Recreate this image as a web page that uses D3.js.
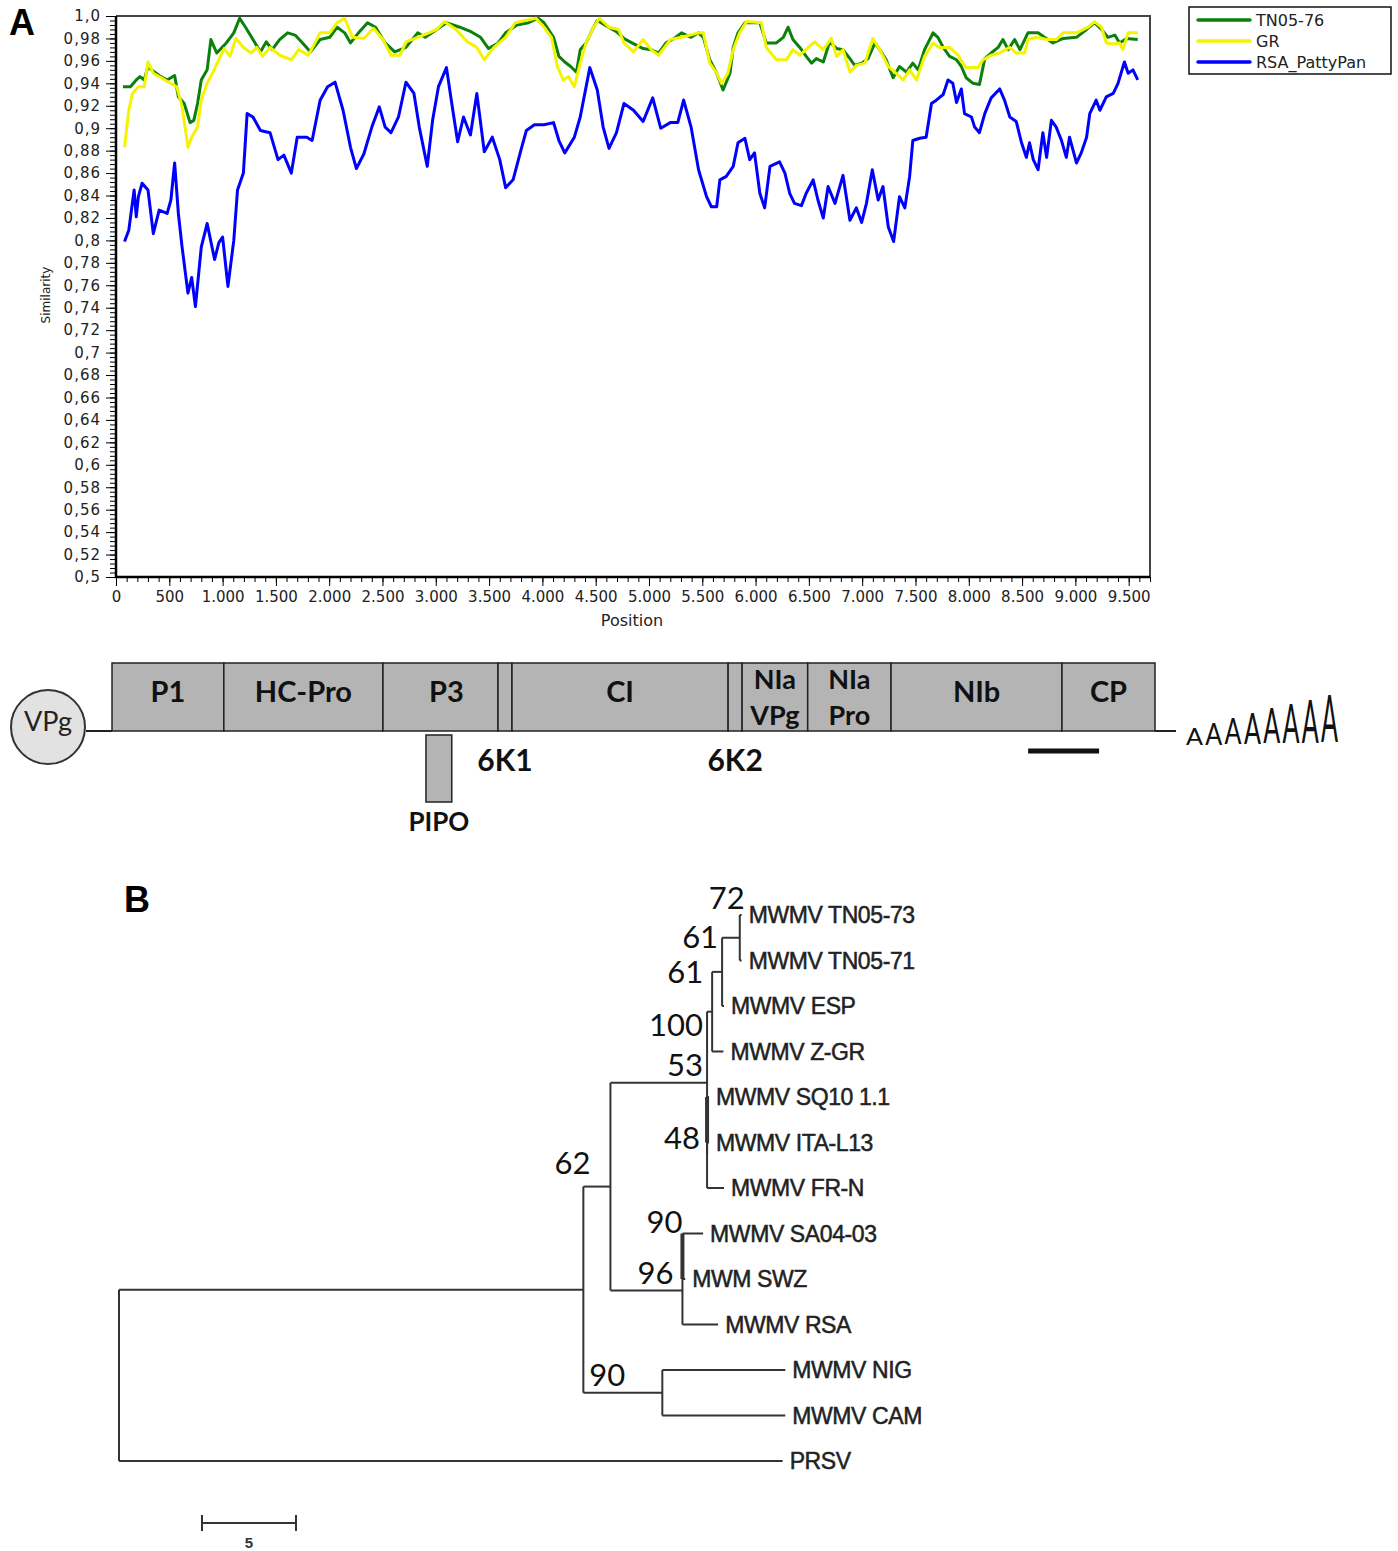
<!DOCTYPE html>
<html>
<head>
<meta charset="utf-8">
<script src="https://cdn.jsdelivr.net/npm/d3@7"></script>
<style>
  body { margin: 0; background: #fff; }
</style>
</head>
<body>
<div id="chart"></div>
<script>
/* ---------- DATA ---------- */
// panel A: similarity plot, [position, similarity]
const seriesNames = ['TN05-76', 'GR', 'RSA_PattyPan'];

const tn0576 = [[65,0.937],[135,0.937],[190,0.943],[225,0.946],[265,0.943],[300,0.955],[335,0.952],[405,0.947],[480,0.943],[550,0.947],[585,0.928],[640,0.922],[695,0.905],[730,0.907],[765,0.922],[800,0.943],[855,0.952],[890,0.979],[945,0.967],[1035,0.976],[1105,0.985],[1160,0.998],[1215,0.990],[1285,0.979],[1355,0.968],[1410,0.977],[1465,0.970],[1535,0.979],[1610,0.985],[1680,0.983],[1750,0.976],[1825,0.968],[1915,0.979],[2005,0.981],[2075,0.990],[2145,0.985],[2200,0.976],[2275,0.985],[2360,0.994],[2435,0.990],[2525,0.976],[2615,0.968],[2720,0.972],[2830,0.985],[2900,0.981],[3010,0.988],[3100,0.994],[3225,0.990],[3330,0.986],[3420,0.981],[3495,0.971],[3585,0.976],[3655,0.985],[3760,0.992],[3870,0.994],[3960,0.998],[4015,0.994],[4105,0.981],[4155,0.964],[4210,0.959],[4265,0.955],[4320,0.950],[4355,0.970],[4410,0.976],[4480,0.990],[4515,0.996],[4585,0.992],[4695,0.986],[4765,0.980],[4840,0.976],[4945,0.971],[5020,0.970],[5090,0.967],[5160,0.976],[5235,0.980],[5305,0.985],[5395,0.981],[5465,0.985],[5510,0.981],[5570,0.961],[5635,0.949],[5695,0.934],[5760,0.949],[5790,0.972],[5835,0.985],[5900,0.994],[6040,0.994],[6100,0.976],[6195,0.976],[6260,0.981],[6305,0.990],[6350,0.979],[6415,0.972],[6475,0.964],[6525,0.958],[6570,0.962],[6635,0.959],[6695,0.977],[6760,0.971],[6820,0.970],[6885,0.962],[6930,0.956],[6995,0.958],[7055,0.962],[7120,0.976],[7165,0.970],[7225,0.961],[7290,0.945],[7350,0.955],[7415,0.950],[7475,0.958],[7525,0.952],[7585,0.970],[7665,0.985],[7710,0.981],[7760,0.972],[7820,0.964],[7885,0.961],[7930,0.955],[7975,0.945],[8040,0.940],[8100,0.939],[8150,0.962],[8210,0.967],[8275,0.972],[8320,0.979],[8370,0.970],[8430,0.979],[8480,0.970],[8555,0.985],[8650,0.985],[8710,0.981],[8790,0.976],[8885,0.980],[9010,0.981],[9105,0.988],[9180,0.994],[9245,0.988],[9305,0.981],[9370,0.983],[9415,0.976],[9480,0.980],[9585,0.979]];

const gr = [[80,0.883],[120,0.916],[155,0.931],[210,0.937],[265,0.937],[300,0.959],[350,0.949],[425,0.945],[495,0.941],[570,0.937],[620,0.919],[675,0.883],[710,0.892],[765,0.901],[800,0.925],[855,0.940],[910,0.950],[965,0.961],[1015,0.971],[1070,0.964],[1125,0.980],[1195,0.972],[1270,0.967],[1320,0.972],[1375,0.964],[1445,0.972],[1535,0.965],[1645,0.961],[1715,0.970],[1805,0.965],[1915,0.985],[2005,0.985],[2075,0.994],[2145,0.998],[2220,0.981],[2325,0.980],[2415,0.989],[2505,0.979],[2580,0.965],[2665,0.965],[2720,0.977],[2830,0.981],[2935,0.985],[3010,0.988],[3080,0.995],[3190,0.988],[3295,0.977],[3385,0.972],[3455,0.961],[3545,0.972],[3655,0.981],[3745,0.994],[3835,0.996],[3940,0.998],[4015,0.990],[4085,0.981],[4140,0.955],[4195,0.943],[4245,0.946],[4300,0.937],[4355,0.958],[4410,0.976],[4480,0.990],[4535,0.998],[4625,0.990],[4715,0.988],[4765,0.976],[4855,0.968],[4945,0.979],[5020,0.970],[5090,0.965],[5200,0.979],[5305,0.981],[5465,0.985],[5510,0.985],[5570,0.958],[5635,0.949],[5680,0.940],[5740,0.949],[5790,0.970],[5850,0.985],[5915,0.995],[6055,0.994],[6100,0.972],[6195,0.961],[6290,0.961],[6350,0.970],[6415,0.965],[6495,0.972],[6555,0.977],[6635,0.970],[6710,0.980],[6760,0.964],[6820,0.970],[6885,0.950],[6945,0.956],[7025,0.958],[7100,0.980],[7165,0.970],[7245,0.955],[7305,0.950],[7385,0.943],[7445,0.952],[7510,0.943],[7585,0.964],[7665,0.976],[7725,0.972],[7820,0.972],[7900,0.965],[7945,0.958],[7975,0.954],[8085,0.954],[8135,0.961],[8210,0.965],[8290,0.967],[8385,0.972],[8445,0.967],[8525,0.967],[8555,0.979],[8635,0.981],[8730,0.979],[8820,0.979],[8885,0.985],[9010,0.985],[9120,0.990],[9180,0.995],[9245,0.990],[9290,0.976],[9355,0.975],[9415,0.976],[9445,0.970],[9495,0.985],[9585,0.985]];

const rsaPattyPan = [[80,0.799],[120,0.809],[170,0.845],[190,0.821],[210,0.839],[245,0.851],[300,0.845],[350,0.806],[405,0.827],[480,0.824],[515,0.836],[550,0.869],[585,0.824],[620,0.794],[675,0.753],[710,0.767],[745,0.741],[800,0.794],[855,0.815],[925,0.783],[965,0.798],[1000,0.803],[1050,0.759],[1105,0.800],[1140,0.845],[1195,0.860],[1230,0.913],[1285,0.910],[1355,0.898],[1445,0.896],[1520,0.872],[1575,0.876],[1645,0.860],[1700,0.892],[1790,0.892],[1840,0.889],[1915,0.925],[1985,0.937],[2055,0.941],[2130,0.916],[2200,0.883],[2255,0.864],[2325,0.877],[2400,0.901],[2470,0.919],[2525,0.901],[2580,0.896],[2650,0.910],[2720,0.941],[2795,0.931],[2845,0.901],[2920,0.866],[2970,0.907],[3025,0.937],[3100,0.954],[3150,0.922],[3205,0.888],[3260,0.910],[3325,0.894],[3385,0.931],[3455,0.879],[3530,0.892],[3600,0.872],[3655,0.847],[3725,0.854],[3800,0.881],[3850,0.898],[3925,0.903],[4015,0.903],[4105,0.905],[4155,0.889],[4210,0.878],[4300,0.892],[4355,0.910],[4445,0.954],[4515,0.934],[4570,0.901],[4625,0.882],[4695,0.896],[4765,0.922],[4855,0.916],[4945,0.906],[5035,0.927],[5110,0.900],[5200,0.905],[5270,0.905],[5325,0.925],[5395,0.901],[5465,0.863],[5540,0.839],[5585,0.830],[5635,0.830],[5665,0.854],[5725,0.857],[5790,0.866],[5835,0.887],[5900,0.891],[5945,0.872],[5990,0.878],[6040,0.842],[6085,0.829],[6135,0.866],[6225,0.870],[6275,0.860],[6320,0.842],[6365,0.833],[6430,0.831],[6475,0.842],[6540,0.854],[6585,0.836],[6635,0.820],[6680,0.848],[6745,0.833],[6820,0.858],[6885,0.818],[6945,0.829],[6995,0.816],[7040,0.833],[7095,0.863],[7150,0.836],[7195,0.848],[7245,0.812],[7295,0.799],[7350,0.839],[7400,0.829],[7445,0.857],[7475,0.889],[7540,0.891],[7600,0.892],[7650,0.922],[7695,0.925],[7760,0.930],[7805,0.943],[7850,0.940],[7885,0.923],[7930,0.935],[7960,0.913],[8025,0.910],[8055,0.901],[8100,0.896],[8150,0.913],[8210,0.927],[8290,0.935],[8335,0.925],[8385,0.910],[8445,0.906],[8495,0.887],[8540,0.874],[8570,0.887],[8605,0.872],[8650,0.863],[8695,0.896],[8730,0.874],[8775,0.907],[8820,0.901],[8870,0.889],[8915,0.874],[8945,0.892],[9010,0.869],[9055,0.878],[9105,0.892],[9135,0.913],[9195,0.925],[9230,0.916],[9290,0.928],[9355,0.931],[9400,0.940],[9460,0.959],[9495,0.949],[9540,0.952],[9585,0.943]];

const yTickLabels = ['1,0','0,98','0,96','0,94','0,92','0,9','0,88','0,86','0,84','0,82','0,8','0,78','0,76','0,74','0,72','0,7','0,68','0,66','0,64','0,62','0,6','0,58','0,56','0,54','0,52','0,5'];
const xTickLabels = ['0','500','1.000','1.500','2.000','2.500','3.000','3.500','4.000','4.500','5.000','5.500','6.000','6.500','7.000','7.500','8.000','8.500','9.000','9.500'];

// genome map (approximate nt positions)
const segNames  = ['P1', 'HC-Pro', 'P3', '6K1', 'CI', '6K2', 'NIa VPg', 'NIa Pro', 'NIb', 'CP'];
const segStarts = [0, 1040, 2520, 3590, 3720, 5730, 5860, 6470, 7245, 8835];
const genomeEnd = 9700;
const pipo = [2920, 3160];
const cpRegion = [8520, 9180];
const polyA = 'AAAAAAAA';

// panel B: tree [id, parent, branch length, bootstrap]
const treeNodes = [
  ['root', null, 0, null],
  ['ingroup', 'root', 24.7, null],
  ['n62', 'ingroup', 1.44, 62],
  ['n53', 'n62', 5.14, 100],
  ['n61b', 'n53', 0.27, 61],
  ['n61a', 'n61b', 0.53, 61],
  ['n72', 'n61a', 0.94, 72],
  ['MWMV TN05-73', 'n72', 0.1, null],
  ['MWMV TN05-71', 'n72', 0.1, null],
  ['MWMV ESP', 'n61a', 0.1, null],
  ['MWMV Z-GR', 'n61b', 0.6, null],
  ['nX', 'n53', 0, 53],
  ['n48', 'nX', 0, 48],
  ['MWMV SQ10 1.1', 'n48', 0.1, null],
  ['MWMV ITA-L13', 'n48', 0.1, null],
  ['MWMV FR-N', 'nX', 0.9, null],
  ['n96', 'n62', 3.83, 96],
  ['n90b', 'n96', 0, 90],
  ['MWMV SA04-03', 'n90b', 1.1, null],
  ['MWM SWZ', 'n90b', 0.15, null],
  ['MWMV RSA', 'n96', 1.9, null],
  ['n90a', 'ingroup', 4.2, 90],
  ['MWMV NIG', 'n90a', 6.54, null],
  ['MWMV CAM', 'n90a', 6.54, null],
  ['PRSV', 'root', 35.3, null]
];
const scaleBarValue = 5;

/* ---------- SETUP ---------- */
const W = 1398, H = 1551;
const svg = d3.select('#chart').append('svg')
  .attr('width', W).attr('height', H)
  .style('font-family', 'DejaVu Sans, sans-serif');

const AXIS_FONT = 'DejaVu Sans, Verdana, sans-serif';
const GFONT = 'Lato, Open Sans, sans-serif';

// panel letters
svg.append('text').attr('x', 9).attr('y', 35).text('A')
  .style('font', 'bold 36px Liberation Sans, Arial, sans-serif');
svg.append('text').attr('x', 124).attr('y', 912).text('B')
  .style('font', 'bold 36px Liberation Sans, Arial, sans-serif');

/* ---------- PANEL A: SIMILARITY PLOT ---------- */
const x = d3.scaleLinear().domain([0, 9700]).range([116, 1150]);
const y = d3.scaleLinear().domain([0.5, 1.0]).range([577, 16]);

const plot = svg.append('g');

// frame (top & right)
plot.append('path')
  .attr('d', `M${x(0)},${y(1)}H${x(9700)}V${y(0.5)}`)
  .attr('fill', 'none').attr('stroke', '#444').attr('stroke-width', 2);

// minor ticks
plot.append('g').attr('transform', `translate(${x(0)},0)`)
  .call(d3.axisLeft(y).tickValues(d3.range(0.5, 1.0001, 0.004)).tickSize(6).tickFormat(''))
  .call(g => g.select('.domain').remove());
plot.append('g').attr('transform', `translate(0,${y(0.5)})`)
  .call(d3.axisBottom(x).tickValues(d3.range(0, 9701, 100)).tickSize(5).tickFormat(''))
  .call(g => g.select('.domain').remove());

// major ticks + labels
const yVals = yTickLabels.map(s => +s.replace(',', '.'));
plot.append('g').attr('transform', `translate(${x(0)},0)`)
  .call(d3.axisLeft(y).tickValues(yVals).tickSize(10).tickPadding(5)
    .tickFormat((d, i) => yTickLabels[i]))
  .call(g => g.select('.domain').remove())
  .call(g => g.selectAll('text').attr('font-family', AXIS_FONT).attr('font-size', 15)
    .attr('fill', '#222').style('letter-spacing', '1px'));

const xVals = xTickLabels.map(s => +s.replace('.', ''));
plot.append('g').attr('transform', `translate(0,${y(0.5)})`)
  .call(d3.axisBottom(x).tickValues(xVals).tickSize(9).tickPadding(5)
    .tickFormat((d, i) => xTickLabels[i]))
  .call(g => g.select('.domain').remove())
  .call(g => g.selectAll('text').attr('font-family', AXIS_FONT).attr('font-size', 15).attr('fill', '#222'));

// axis lines
plot.append('path')
  .attr('d', `M${x(0)},${y(1)}V${y(0.5)}H${x(9700)}`)
  .attr('fill', 'none').attr('stroke', '#000').attr('stroke-width', 2.5);

plot.append('text').attr('x', 632).attr('y', 626).attr('text-anchor', 'middle')
  .attr('font-family', AXIS_FONT).attr('font-size', 16).attr('fill', '#222').text('Position');
plot.append('text').attr('transform', 'translate(50,295) rotate(-90)').attr('text-anchor', 'middle')
  .attr('font-family', AXIS_FONT).attr('font-size', 12).attr('fill', '#222').text('Similarity');

const line = d3.line().x(d => x(d[0])).y(d => y(d[1]));
const series = [
  { name: seriesNames[0], data: tn0576, color: '#0b800b' },
  { name: seriesNames[1], data: gr, color: '#f4f400' },
  { name: seriesNames[2], data: rsaPattyPan, color: '#0000ff' }
];
plot.selectAll('.series').data(series).join('path')
  .attr('class', 'series')
  .attr('d', d => line(d.data))
  .attr('fill', 'none')
  .attr('stroke', d => d.color)
  .attr('stroke-width', 3)
  .attr('stroke-linejoin', 'round');

// legend
const legend = svg.append('g');
legend.append('rect').attr('x', 1189).attr('y', 7).attr('width', 202).attr('height', 67)
  .attr('fill', '#fff').attr('stroke', '#111').attr('stroke-width', 1.5);
series.forEach((s, i) => {
  const ly = 20 + i * 21;
  legend.append('line').attr('x1', 1198).attr('x2', 1250).attr('y1', ly).attr('y2', ly)
    .attr('stroke', s.color).attr('stroke-width', 3.5).attr('stroke-linecap', 'round');
  legend.append('text').attr('x', 1256).attr('y', ly).attr('dy', '0.35em')
    .attr('font-family', AXIS_FONT).attr('font-size', 16).attr('fill', '#222').text(s.name);
});

/* ---------- GENOME MAP ---------- */
const gx = d3.scaleLinear().domain([0, genomeEnd]).range([112, 1155]);
const gTop = 663, gBot = 731;
const genome = svg.append('g');

// 5' line and VPg, 3' line
genome.append('line').attr('x1', 86).attr('x2', gx(0)).attr('y1', gBot).attr('y2', gBot)
  .attr('stroke', '#222').attr('stroke-width', 2);
genome.append('line').attr('x1', gx(genomeEnd)).attr('x2', 1176).attr('y1', gBot).attr('y2', gBot)
  .attr('stroke', '#222').attr('stroke-width', 2);
genome.append('circle').attr('cx', 48).attr('cy', 727).attr('r', 37)
  .attr('fill', '#e2e2e2').attr('stroke', '#333').attr('stroke-width', 2);
genome.append('text').attr('x', 48).attr('y', 722).attr('dy', '0.35em').attr('text-anchor', 'middle')
  .attr('font-family', GFONT).attr('font-size', 27).attr('fill', '#222').text('VPg');

const segs = segNames.map((n, i) => ({
  name: n, start: segStarts[i], end: i < segStarts.length - 1 ? segStarts[i + 1] : genomeEnd
}));
genome.selectAll('.seg').data(segs).join('rect')
  .attr('class', 'seg')
  .attr('x', d => gx(d.start)).attr('y', gTop)
  .attr('width', d => gx(d.end) - gx(d.start)).attr('height', gBot - gTop)
  .attr('fill', '#b4b4b4').attr('stroke', '#222').attr('stroke-width', 1.5);

segs.forEach(d => {
  const cx = (gx(d.start) + gx(d.end)) / 2;
  if (d.name.startsWith('6K')) {
    genome.append('text').attr('x', cx).attr('y', 760).attr('dy', '0.35em').attr('text-anchor', 'middle')
      .attr('font-family', GFONT).attr('font-weight', 700).attr('font-size', 30).attr('fill', '#111').text(d.name);
    return;
  }
  const parts = d.name.split(' ');
  if (parts.length === 2) {
    parts.forEach((p, j) => genome.append('text').attr('x', cx).attr('y', 680 + j * 36).attr('dy', '0.35em')
      .attr('text-anchor', 'middle').attr('font-family', GFONT).attr('font-weight', 700)
      .attr('font-size', 27).attr('fill', '#111').text(p));
  } else {
    const shift = d.name === 'P3' ? 6 : 0;
    genome.append('text').attr('x', cx + shift).attr('y', 692).attr('dy', '0.35em').attr('text-anchor', 'middle')
      .attr('font-family', GFONT).attr('font-weight', 700).attr('font-size', 29).attr('fill', '#111').text(d.name);
  }
});

// PIPO
genome.append('rect').attr('x', gx(pipo[0])).attr('y', 735).attr('width', gx(pipo[1]) - gx(pipo[0])).attr('height', 67)
  .attr('fill', '#b4b4b4').attr('stroke', '#222').attr('stroke-width', 1.5);
genome.append('text').attr('x', (gx(pipo[0]) + gx(pipo[1])) / 2).attr('y', 822).attr('dy', '0.35em')
  .attr('text-anchor', 'middle').attr('font-family', GFONT).attr('font-weight', 700)
  .attr('font-size', 26).attr('fill', '#111').text('PIPO');

// region bar under NIb/CP
genome.append('line').attr('x1', gx(cpRegion[0])).attr('x2', gx(cpRegion[1])).attr('y1', 751).attr('y2', 751)
  .attr('stroke', '#111').attr('stroke-width', 5);

// poly(A) tail: growing letters, each squeezed to the same width
polyA.split('').forEach((ch, i) => {
  const t = genome.append('text')
    .attr('font-family', GFONT).attr('font-size', 24 + i * 6).attr('fill', '#111')
    .text(ch);
  const w = t.node().getComputedTextLength();
  t.attr('transform', `translate(${1186 + i * 19.3},${745 - i * 0.4}) scale(${17 / w},1)`);
});

/* ---------- PANEL B: TREE ---------- */
const root = d3.stratify().id(d => d[0]).parentId(d => d[1])(treeNodes);
root.eachBefore(n => { n.dist = n.parent ? n.parent.dist + n.data[2] : 0; });
const leaves = root.leaves();
const tx = d3.scaleLinear().domain([0, 1]).range([119, 119 + 18.8]);
const ty = d3.scaleLinear().domain([0, leaves.length - 1]).range([915, 1461]);
leaves.forEach((l, i) => { l.py = ty(i); });
root.eachAfter(n => {
  if (n.children) n.py = (n.children[0].py + n.children[n.children.length - 1].py) / 2;
  n.px = tx(n.dist);
});

const tree = svg.append('g').attr('stroke', '#333').attr('stroke-width', 2).attr('fill', 'none');
const thick = new Set(['n48', 'n90b']);
root.descendants().forEach(n => {
  if (n.parent) {
    tree.append('line').attr('x1', n.parent.px).attr('x2', n.px).attr('y1', n.py).attr('y2', n.py);
  }
  if (n.children) {
    tree.append('line').attr('x1', n.px).attr('x2', n.px)
      .attr('y1', n.children[0].py).attr('y2', n.children[n.children.length - 1].py)
      .attr('stroke-width', thick.has(n.id) ? 4 : 2);
  }
});

// leaf labels
svg.append('g').selectAll('text').data(leaves).join('text')
  .attr('x', d => d.px + 7).attr('y', d => d.py).attr('dy', '0.35em')
  .attr('font-family', 'Liberation Sans, Arial, sans-serif').attr('font-size', 23)
  .style('letter-spacing', '-0.4px')
  .attr('fill', '#222').attr('stroke', '#222').attr('stroke-width', 0.5)
  .text(d => d.id);

// bootstrap labels (offsets relative to node)
const bootOffset = {
  n72: [5, -40], n61a: [-4, -35], n61b: [-9, -40], n53: [-4, -58], nX: [-4, -89],
  n48: [-7, 18], n62: [-20, -24], n96: [-9, -18], n90b: [0, -34], n90a: [-37, -18]
};
svg.append('g').selectAll('text')
  .data(root.descendants().filter(n => n.data[3] != null))
  .join('text')
  .attr('x', d => d.px + bootOffset[d.id][0]).attr('y', d => d.py + bootOffset[d.id][1]).attr('dy', '0.36em')
  .attr('text-anchor', 'end')
  .attr('font-family', GFONT).attr('font-size', 31).attr('fill', '#111')
  .text(d => d.data[3]);

// scale bar
const sb = svg.append('g').attr('stroke', '#333').attr('stroke-width', 2);
const sx0 = 202, sx1 = sx0 + (tx(scaleBarValue) - tx(0));
sb.append('line').attr('x1', sx0).attr('x2', sx1).attr('y1', 1523).attr('y2', 1523);
sb.append('line').attr('x1', sx0).attr('x2', sx0).attr('y1', 1515).attr('y2', 1531);
sb.append('line').attr('x1', sx1).attr('x2', sx1).attr('y1', 1515).attr('y2', 1531);
svg.append('text').attr('x', (sx0 + sx1) / 2).attr('y', 1548).attr('text-anchor', 'middle')
  .attr('font-family', 'Liberation Sans, Arial, sans-serif').attr('font-weight', 700)
  .attr('font-size', 15).attr('fill', '#333').text(scaleBarValue);
</script>
</body>
</html>
